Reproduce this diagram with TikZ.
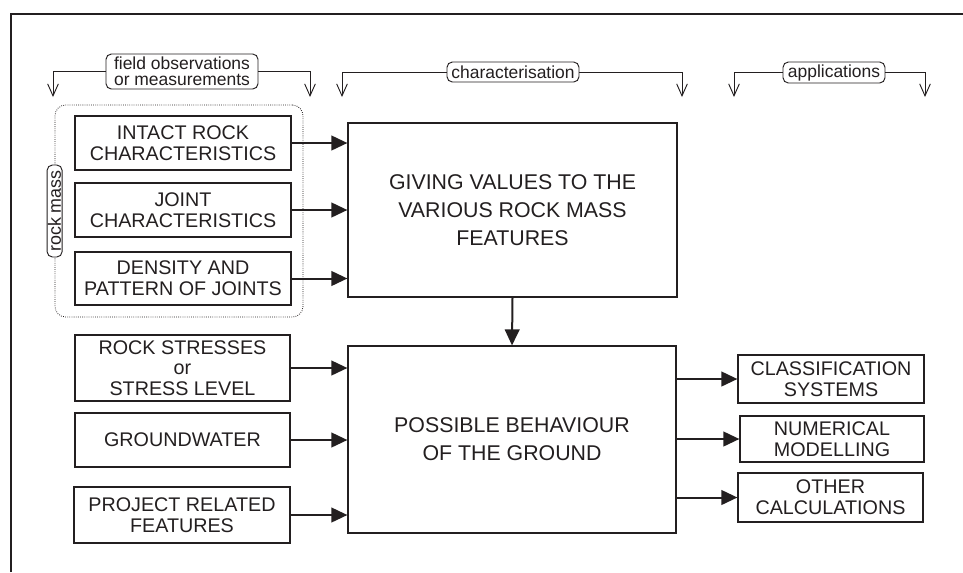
\documentclass[tikz,border=0pt]{standalone}
\usepackage{fontspec}
\setmainfont{Liberation Sans}
\usetikzlibrary{arrows.meta,calc}
\definecolor{ink}{RGB}{35,31,32}
\begin{document}
\begin{tikzpicture}[x=0.75pt,y=-0.75pt,
  wh/.style 2 args={minimum width={#1*0.75pt}, minimum height={#2*0.75pt}},
  box/.style={draw=ink, line width=0.9pt, text=ink, align=center, inner sep=0pt,
              font=\fontsize{14.8}{15.5}\selectfont},
  big/.style={box, font=\fontsize{16}{21}\selectfont},
  tag/.style={draw=ink, rounded corners=4pt, fill=white, line width=0.7pt, inner sep=0pt,
              text=ink, align=center, font=\fontsize{13.1}{12.2}\selectfont},
  flow/.style={draw=ink, line width=1.5pt, -{Triangle[length=12pt,width=11pt]}},
  hdr/.style={draw=ink, line width=0.7pt, -{Straight Barb[length=9pt,width=8pt]}}]
\useasboundingbox (0,0) rectangle (963,572);

% outer frame
\coordinate (fbl) at (11,572);
\coordinate (ftl) at (11,14);
\coordinate (ftr) at (963,14);
\draw[ink, line width=1.1pt] (fbl) -- (ftl) -- (ftr);

% rock mass group
\node[draw=ink, densely dotted, line width=0.6pt, rounded corners=8pt, wh={248}{212}] (rm) at (179,211) {};

% left boxes
\node[box, wh={216}{54}] (intact) at (183,143) {INTACT ROCK\\CHARACTERISTICS};
\node[box, wh={216}{54}] (joint) at (183,210) {JOINT\\CHARACTERISTICS};
\node[box, wh={216}{53}] (dens) at (183,278.5) {DENSITY AND\\PATTERN OF JOINTS};
\node[box, wh={215}{66}] (stress) at (182.5,368) {ROCK STRESSES\\or\\STRESS LEVEL};
\node[box, wh={215}{54}] (gw) at (182.5,440) {GROUNDWATER};
\node[box, wh={216}{56}] (proj) at (182,515) {PROJECT RELATED\\FEATURES};

\node[tag, rotate=90, font=\fontsize{13.4}{13.4}\selectfont, wh={92}{15}] (rmtag) at (rm.west) {rock mass};

% big boxes
\node[big, wh={329}{174}] (give) at (512.5,210) {GIVING VALUES TO THE\\VARIOUS ROCK MASS\\FEATURES};
\node[big, wh={328}{187}] (beh) at (512,439.5) {POSSIBLE BEHAVIOUR\\OF THE GROUND};

% right boxes
\node[box, wh={186}{48}] (cls) at (831,379) {CLASSIFICATION\\SYSTEMS};
\node[box, wh={184}{46}] (num) at (832,439) {NUMERICAL\\MODELLING};
\node[box, wh={185}{49}] (oth) at (830.5,497.5) {OTHER\\CALCULATIONS};

% flow arrows
\draw[flow] (intact.east) -- (intact.east -| give.west);
\draw[flow] (joint.east) -- (joint.east -| give.west);
\draw[flow] (dens.east) -- (dens.east -| give.west);
\draw[flow] (give.south) -- (beh.north);
\draw[flow] (stress.east) -- (stress.east -| beh.west);
\draw[flow] (gw.east) -- (gw.east -| beh.west);
\draw[flow] (proj.east) -- (proj.east -| beh.west);
\draw[flow] (cls.west -| beh.east) -- (cls.west);
\draw[flow] (num.west -| beh.east) -- (num.west);
\draw[flow] (oth.west -| beh.east) -- (oth.west);

% headers
\node[tag, wh={152}{35}] (t1) at (182,71.5) {field observations\\or measurements};
\node[tag, wh={132}{20}] (t2) at (513,72) {characterisation};
\node[tag, wh={102}{21}] (t3) at (834,72.5) {applications};
\coordinate (t1l) at (53,97);
\coordinate (t1r) at (310,97);
\coordinate (t2l) at (342,97);
\coordinate (t2r) at (682,97);
\coordinate (t3l) at (734,97);
\coordinate (t3r) at (925,97);
\draw[hdr] (t1.west) -| (t1l);
\draw[hdr] (t1.east) -| (t1r);
\draw[hdr] (t2.west) -| (t2l);
\draw[hdr] (t2.east) -| (t2r);
\draw[hdr] (t3.west) -| (t3l);
\draw[hdr] (t3.east) -| (t3r);
\end{tikzpicture}
\end{document}
